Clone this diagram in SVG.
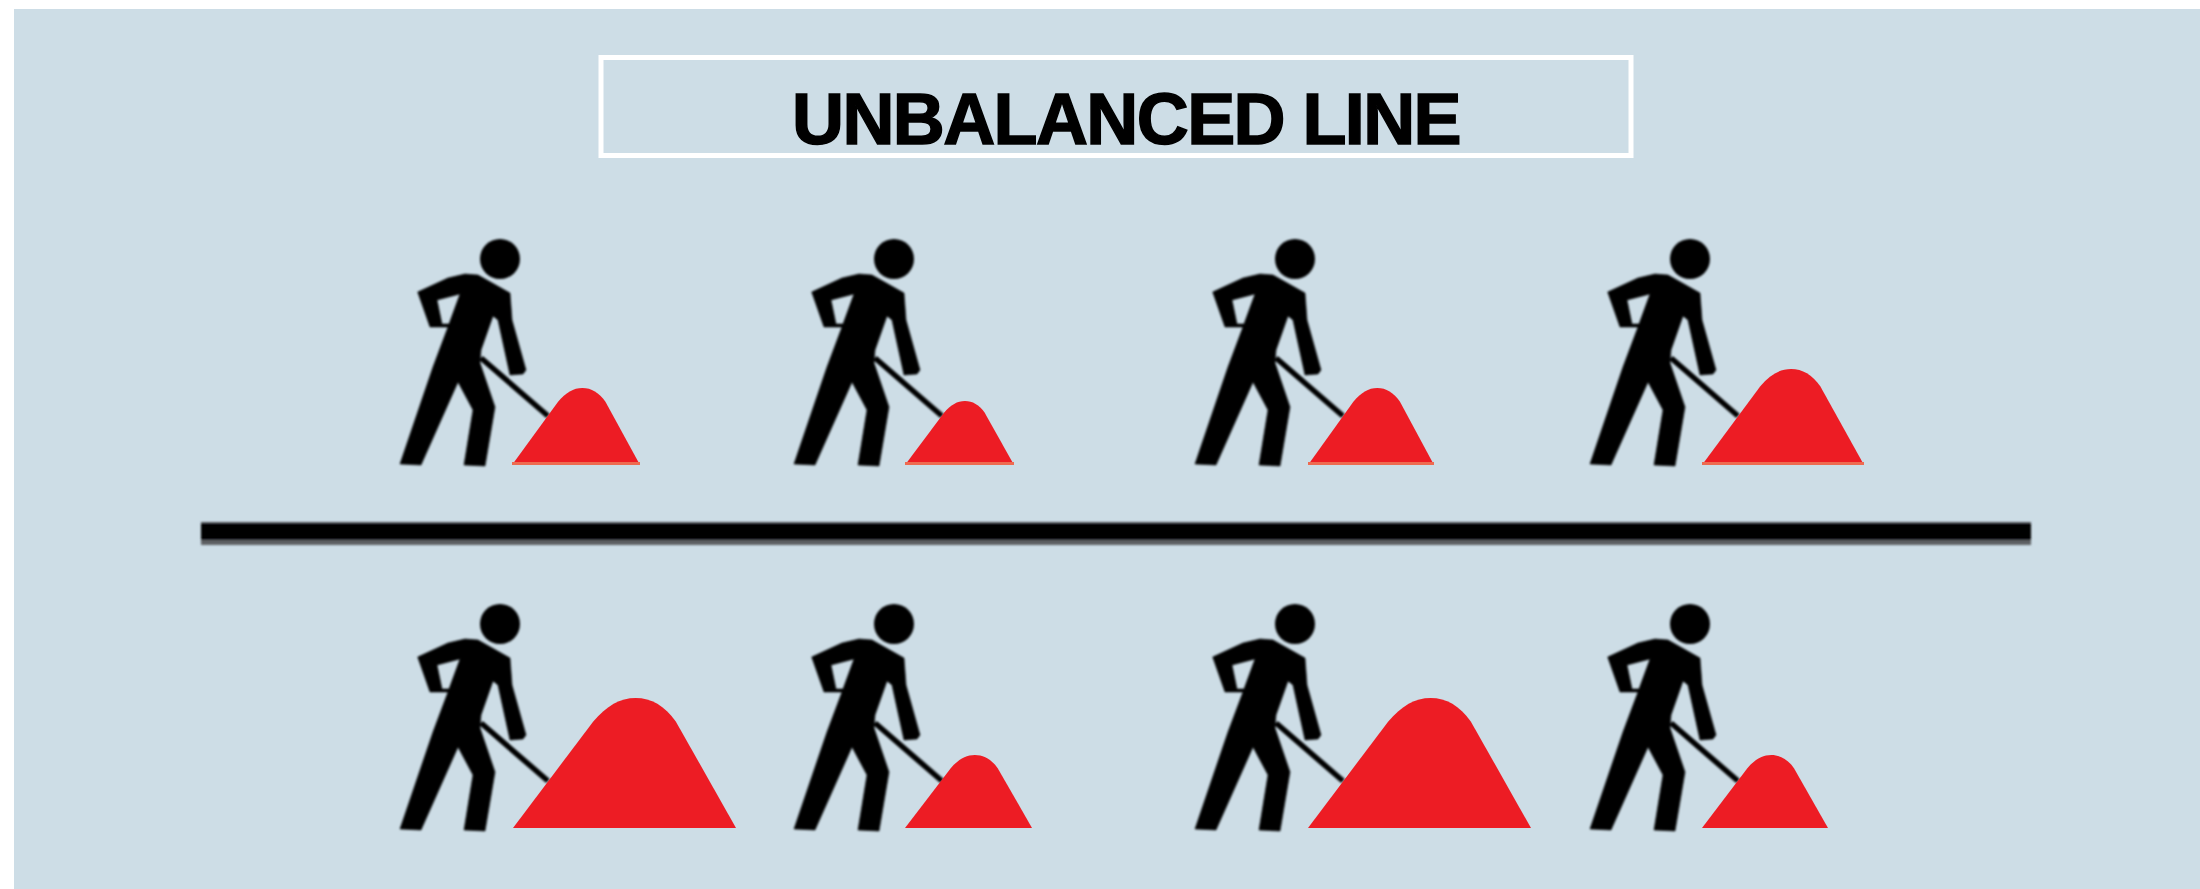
<svg xmlns="http://www.w3.org/2000/svg" width="2200" height="889" viewBox="0 0 2200 889">
  <style>
    .pile { fill: #ed1c24; }
    .base { fill: #ee6a50; }
    .title { font-family: "Liberation Sans", Arial, sans-serif; font-weight: 700; font-size: 72px; letter-spacing: -1.6px; fill: #000; stroke: #000; stroke-width: 1.5px; }
  </style>
  <defs>
    <filter id="soft" x="-5%" y="-5%" width="110%" height="110%"><feGaussianBlur stdDeviation="0.8"/></filter>
    <g id="worker" filter="url(#soft)">
      <circle cx="120" cy="39" r="20" fill="#000"/>
      <path fill="#000" stroke="#000" stroke-width="0.6" stroke-linejoin="round" fill-rule="evenodd" d="M37.700 72 L68 58 L85 54 L98 55 L130 73 L132 100 L146 150 L143 154 L130 155 L118 100 L113 96 L101 130 L100 143 L115 187 L105 246 L84 245 L93 190 L78 162 L41 245 L20 244 L53 147 L68 107 L50 107 Z M57 80 L80 74 L69 104 L62 104 Z"/>
      <line x1="101" y1="138" x2="168" y2="196" stroke="#000" stroke-width="5.500"/>
    </g>
    <path id="pile-shape" class="pile" d="M0 100 L36 18 C42 6 48 0 55 0 C62 0 68 6 73 18 L100 100 Z"/>
  </defs>

  <rect id="outer" width="2200" height="889" fill="#ffffff"/>
  <rect id="panel" x="14" y="9" width="2186" height="880" fill="#cddde6"/>

  <g id="title-box">
    <rect x="601" y="57.500" width="1030" height="98" fill="none" stroke="#ffffff" stroke-width="5"/>
    <text class="title" x="792" y="144">UNBALANCED LINE</text>
  </g>

  <g id="divider" filter="url(#soft)">
    <rect x="201" y="522" width="1830" height="23" fill="#5d6163"/>
    <rect x="201" y="523" width="1830" height="17" fill="#000000"/>
  </g>

  <g id="top-1"><use href="#worker" transform="translate(380 220)"/><use href="#pile-shape" transform="translate(512 388) scale(1.28 .77)"/><rect class="base" x="512" y="462" width="128" height="3"/></g>
  <g id="top-2"><use href="#worker" transform="translate(774 220)"/><use href="#pile-shape" transform="translate(905 401) scale(1.09 .64)"/><rect class="base" x="905" y="462" width="109" height="3"/></g>
  <g id="top-3"><use href="#worker" transform="translate(1175 220)"/><use href="#pile-shape" transform="translate(1308 388) scale(1.26 .77)"/><rect class="base" x="1308" y="462" width="126" height="3"/></g>
  <g id="top-4"><use href="#worker" transform="translate(1570 220)"/><use href="#pile-shape" transform="translate(1702 369) scale(1.62 .96)"/><rect class="base" x="1702" y="462" width="162" height="3"/></g>

  <g id="bottom-1"><use href="#worker" transform="translate(380 585)"/><use href="#pile-shape" transform="translate(513 698) scale(2.23 1.30)"/></g>
  <g id="bottom-2"><use href="#worker" transform="translate(774 585)"/><use href="#pile-shape" transform="translate(905 755) scale(1.27 .73)"/></g>
  <g id="bottom-3"><use href="#worker" transform="translate(1175 585)"/><use href="#pile-shape" transform="translate(1308 698) scale(2.23 1.30)"/></g>
  <g id="bottom-4"><use href="#worker" transform="translate(1570 585)"/><use href="#pile-shape" transform="translate(1702 755) scale(1.26 .73)"/></g>
</svg>
